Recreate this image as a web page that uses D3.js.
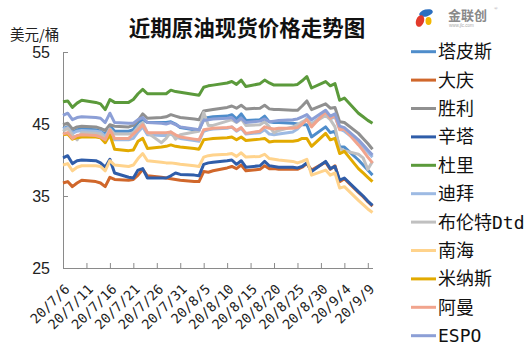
<!DOCTYPE html>
<html>
<head>
<meta charset="utf-8">
<script src="https://cdn.jsdelivr.net/npm/d3@7"></script>
<style>
  body { margin: 0; background: #fff; }
  svg { display: block; }
</style>
</head>
<body>
<div class="chart-container"></div>
<script>
// Data (trading days 2020-07-06 .. 2020-09-10)
const dates = [
  '2020-07-06','2020-07-07','2020-07-08','2020-07-09','2020-07-10',
  '2020-07-13','2020-07-14','2020-07-15','2020-07-16','2020-07-17',
  '2020-07-20','2020-07-21','2020-07-22','2020-07-23','2020-07-24',
  '2020-07-27','2020-07-28','2020-07-29','2020-07-30','2020-07-31',
  '2020-08-03','2020-08-04','2020-08-05','2020-08-06','2020-08-07',
  '2020-08-10','2020-08-11','2020-08-12','2020-08-13','2020-08-14',
  '2020-08-17','2020-08-18','2020-08-19','2020-08-20','2020-08-21',
  '2020-08-24','2020-08-25','2020-08-26','2020-08-27','2020-08-28',
  '2020-08-31','2020-09-01','2020-09-02','2020-09-03','2020-09-04',
  '2020-09-07','2020-09-08','2020-09-09','2020-09-10'
];

const seriesNames = ['塔皮斯', '大庆', '胜利', '辛塔', '杜里', '迪拜', '布伦特Dtd', '南海', '米纳斯', '阿曼', 'ESPO'];

const tapis   = [44.4,44.6,43.8,44.2,44.3, 44.2,44.0,43.6,44.8,44.0, 44.0,44.2,45.2,45.6,45.2, 45.2,45.2,45.3,45.0,44.5, 44.2,44.1,45.8,45.9,46.0, 46.1,46.3,45.7,46.4,45.5, 45.6,46.1,45.3,45.2,45.2, 45.1,45.0,44.9,44.9,43.2, 44.6,43.8,44.0,41.8,41.8, 40.0,39.3,38.6,37.9];
const daqing  = [36.8,37.0,36.3,36.8,37.2, 37.0,36.8,36.3,37.6,37.3, 37.2,37.3,37.9,38.7,37.8, 37.6,37.5,37.4,37.3,37.2, 37.0,37.0,38.4,38.3,38.5, 38.9,39.1,38.8,39.3,38.5, 38.7,39.2,38.8,38.8,38.7, 38.7,38.7,39.0,39.5,38.6, 39.7,38.7,39.2,37.0,37.4, 35.5,34.9,34.2,33.6];
const shengli = [44.9,45.1,44.3,44.6,44.7, 44.6,44.4,44.1,44.9,44.7, 44.6,44.8,45.5,46.4,45.8, 45.9,46.0,46.3,46.1,45.9, 45.7,45.6,46.8,46.9,47.0, 47.3,47.5,47.2,47.6,47.1, 47.2,47.6,47.1,47.0,47.0, 46.9,46.9,47.5,48.2,47.0, 47.8,47.2,47.3,45.3,45.2, 43.7,43.0,42.3,41.5];
const sinta   = [40.3,40.6,39.5,39.9,40.0, 39.9,39.6,39.0,40.1,38.2, 37.6,37.5,38.6,38.8,37.5, 37.5,37.5,37.8,38.2,38.0, 37.9,37.8,39.4,39.6,39.7, 39.9,40.0,39.4,39.9,39.0, 39.2,39.8,39.2,39.1,39.0, 39.0,38.9,39.1,39.6,38.4, 39.8,38.8,39.1,37.2,37.5, 35.6,35.0,34.3,33.7];
const duri    = [48.1,48.2,47.3,47.9,48.3, 48.0,47.8,47.0,48.4,48.0, 48.0,48.4,49.2,49.8,49.2, 49.2,49.2,49.7,49.5,49.4, 49.1,49.0,50.1,50.3,50.4, 50.7,50.9,50.5,51.1,50.2, 50.6,51.1,50.7,50.4,50.4, 50.4,50.5,51.0,51.6,50.0, 50.9,50.3,50.6,48.3,48.6, 46.5,46.0,45.5,45.1];
const dubai   = [44.3,44.5,43.7,44.0,44.1, 44.0,43.9,43.3,44.3,42.8, 42.8,43.0,43.9,44.6,43.5, 43.4,43.4,43.6,43.2,43.0, 42.7,42.6,44.0,44.2,44.3, 44.4,44.6,44.0,44.4,43.6, 43.8,44.2,43.6,43.5,43.6, 43.9,44.3,45.0,45.8,45.0, 46.5,45.7,46.0,44.3,44.0, 42.5,41.8,41.1,40.4];
const brent   = [44.0,44.4,43.5,42.8,43.8, 43.7,43.6,43.0,44.3,43.6, 43.6,43.8,44.6,45.2,43.8, 42.4,43.0,43.9,42.9,43.5, 43.9,44.0,46.6,44.8,44.8, 45.4,45.6,45.2,45.7,44.8, 44.9,45.3,44.6,43.8,44.1, 44.6,44.9,45.3,45.6,45.0, 46.2,45.6,44.6,41.6,41.3, 40.8,40.3,38.7,39.8];
const nanhai  = [39.3,39.5,38.5,39.0,39.2, 39.2,39.1,38.5,39.9,39.3, 39.1,39.3,40.2,40.9,39.9, 39.7,39.6,39.6,39.5,39.4, 39.2,39.1,40.4,40.6,40.7, 40.8,40.9,40.5,41.0,40.4, 40.5,40.8,40.2,40.1,40.0, 39.8,39.6,39.8,40.1,37.9, 38.6,37.9,38.2,36.1,36.3, 34.4,33.8,33.2,32.7];
const minas   = [43.5,43.6,42.9,43.1,43.2, 43.2,43.1,42.4,43.5,41.5, 41.3,41.4,42.6,43.0,41.6, 41.8,41.9,42.1,41.9,41.8, 41.6,41.5,42.8,42.9,43.0, 43.1,43.2,42.8,43.2,42.7, 42.9,43.0,42.5,42.6,42.6, 42.6,42.7,43.0,43.0,41.9, 43.7,42.8,43.0,40.9,41.2, 38.8,38.2,37.6,37.0];
const oman    = [43.6,43.8,43.0,43.4,43.5, 43.4,43.2,42.8,44.2,43.0, 43.0,43.6,44.2,44.9,43.8, 43.8,43.8,43.9,43.5,43.2, 42.9,42.8,44.2,44.3,44.4, 44.5,44.6,44.1,44.5,43.7, 44.0,44.6,44.4,44.3,44.4, 44.4,44.5,45.0,45.6,44.6, 46.7,45.8,46.2,44.2,44.3, 42.1,41.3,40.4,39.6];
const espo    = [46.2,46.5,45.6,45.9,46.0, 45.9,45.8,45.2,46.5,45.2, 45.1,45.1,45.6,45.9,45.2, 45.1,45.0,45.2,44.9,44.6, 44.3,44.2,45.5,45.6,45.7, 45.8,45.9,45.3,45.8,45.2, 45.4,45.7,45.3,45.4,45.5, 45.6,45.7,46.0,46.3,45.6, 46.9,46.1,46.4,44.7,44.5, 42.8,42.1,41.4,40.7];

const seriesValues = [tapis, daqing, shengli, sinta, duri, dubai, brent, nanhai, minas, oman, espo];

const yTicks = [25, 35, 45, 55];
const xTickDates = ['2020-07-06','2020-07-11','2020-07-16','2020-07-21','2020-07-26','2020-07-31','2020-08-05',
                    '2020-08-10','2020-08-15','2020-08-20','2020-08-25','2020-08-30','2020-09-04','2020-09-09'];
const xTickLabels = ['20/7/6','20/7/11','20/7/16','20/7/21','20/7/26','20/7/31','20/8/5',
                     '20/8/10','20/8/15','20/8/20','20/8/25','20/8/30','20/9/4','20/9/9'];

// Colors
const colors = ['#4f8dcb', '#d0672b', '#909090', '#2f5da9', '#5b9a3b', '#9dbae3',
                '#c0c0c0', '#ffd38c', '#e2aa00', '#f1a48d', '#8c9fd6'];

// Setup
const W = 531, H = 354;
const parse = d3.timeParse('%Y-%m-%d');

const svg = d3.select('.chart-container')
    .append('svg')
    .attr('width', W)
    .attr('height', H);

svg.append('rect').attr('width', W).attr('height', H).attr('fill', '#fff');

// Scales
const x = d3.scaleTime()
    .domain([parse('2020-07-06'), parse('2020-09-10')])
    .range([63, 372.5]);
const y = d3.scaleLinear().domain([25, 55]).range([268, 52]);

// Title + unit
svg.append('text')
    .attr('x', 247).attr('y', 36)
    .attr('text-anchor', 'middle')
    .style('font-family', '"Noto Sans CJK SC", sans-serif')
    .style('font-weight', 'bold')
    .style('font-size', '21.5px')
    .attr('fill', '#111')
    .text('近期原油现货价格走势图');

svg.append('text')
    .attr('x', 10).attr('y', 40)
    .style('font-family', '"Noto Sans CJK SC", sans-serif')
    .style('font-size', '14.5px')
    .attr('fill', '#222')
    .text('美元/桶');

// Logo
const logo = svg.append('g');
logo.append('ellipse').attr('cx', 426).attr('cy', 13).attr('rx', 7).attr('ry', 3.5)
    .attr('transform', 'rotate(-15,426,13)').attr('fill', '#2b6fc0');
logo.append('ellipse').attr('cx', 420).attr('cy', 21).attr('rx', 4).attr('ry', 6)
    .attr('transform', 'rotate(20,420,21)').attr('fill', '#e23a2b');
logo.append('ellipse').attr('cx', 428.5).attr('cy', 21).attr('rx', 3).attr('ry', 4)
    .attr('fill', '#f3b700');
logo.append('text').attr('x', 448).attr('y', 20)
    .style('font-family', '"Noto Sans CJK SC", sans-serif')
    .style('font-size', '13px').style('font-weight', 'bold')
    .attr('fill', '#8a8a8a').text('金联创');
logo.append('text').attr('x', 494).attr('y', 10)
    .style('font-size', '5px').attr('fill', '#999').text('®');
logo.append('text').attr('x', 449).attr('y', 27)
    .style('font-family', 'Arial, sans-serif')
    .style('font-size', '4.5px').attr('fill', '#aaa').text('www.jlc.com');

// Axes
const axisColor = '#8a8a8a';

const yAxis = d3.axisLeft(y).tickValues(yTicks).tickSizeInner(-5).tickSizeOuter(0).tickPadding(13);
const gy = svg.append('g').attr('transform', 'translate(63,0)').call(yAxis);
gy.select('.domain').attr('stroke', axisColor);
gy.selectAll('.tick line').attr('stroke', axisColor);
gy.selectAll('.tick text')
    .style('font-family', '"Liberation Sans", Arial, sans-serif')
    .style('font-size', '16px')
    .attr('fill', '#222');

const xAxis = d3.axisBottom(x)
    .tickValues(xTickDates.map(parse))
    .tickFormat((d, i) => xTickLabels[i])
    .tickSizeInner(-5).tickSizeOuter(0);
const gx = svg.append('g').attr('transform', 'translate(0,268)').call(xAxis);
gx.select('.domain').attr('stroke', axisColor);
gx.selectAll('.tick line').attr('stroke', axisColor);
gx.selectAll('.tick text')
    .attr('y', 0).attr('dy', 0)
    .attr('text-anchor', 'end')
    .attr('transform', 'translate(7,22) rotate(-45)')
    .style('font-family', '"DejaVu Sans Mono", monospace')
    .style('font-size', '13.5px')
    .attr('fill', '#222');

// Lines
const line = d3.line()
    .x((d, i) => x(parse(dates[i])))
    .y(d => y(d));

svg.append('g')
    .selectAll('path')
    .data(seriesValues)
    .join('path')
    .attr('d', d => line(d))
    .attr('fill', 'none')
    .attr('stroke', (d, i) => colors[i])
    .attr('stroke-width', 3)
    .attr('stroke-linejoin', 'round');

// Legend
const legend = svg.append('g')
    .selectAll('g')
    .data(seriesNames)
    .join('g')
    .attr('transform', (d, i) => `translate(0,${51.7 + i * 28.4})`);

legend.append('line')
    .attr('x1', 411).attr('x2', 436)
    .attr('stroke', (d, i) => colors[i])
    .attr('stroke-width', 3);

legend.append('text')
    .attr('x', 438).attr('y', 6.5)
    .style('font-family', '"DejaVu Sans Mono", "Noto Sans CJK SC", monospace')
    .style('font-size', '18px')
    .attr('fill', '#111')
    .text(d => d);
</script>
</body>
</html>
